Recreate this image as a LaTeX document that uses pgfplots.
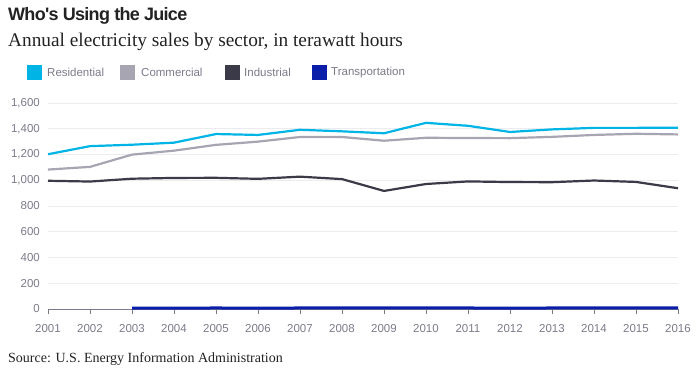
\documentclass[border=0pt]{standalone}
\usepackage{fontspec}
\setmainfont{Liberation Serif}
\newfontfamily\sansf{Liberation Sans}
\newfontfamily\titf[LetterSpace=-4]{Liberation Sans}
\usepackage{pgfplots}
\pgfplotsset{compat=1.18}
\definecolor{res}{HTML}{00B4E6}
\definecolor{com}{HTML}{A7A5B2}
\definecolor{ind}{HTML}{3A3A48}
\definecolor{tra}{HTML}{0A1EAA}
\definecolor{lab}{HTML}{7C7A8A}
\definecolor{gridc}{HTML}{ECECEE}
\definecolor{titc}{HTML}{222222}
\begin{document}
\begin{tikzpicture}[x=1bp,y=1bp]
\useasboundingbox (0,0) rectangle (700,-379);
\node[anchor=base west, inner sep=0, text=titc] at (8,-20.5) {\titf\bfseries\fontsize{18bp}{20bp}\selectfont Who's Using the Juice};
\node[anchor=base west, inner sep=0, text=titc] at (8,-46) {\fontsize{19.3bp}{22bp}\selectfont Annual electricity sales by sector, in terawatt hours};
\fill[res] (27,-65) rectangle (42,-80);
\node[anchor=west, inner sep=0, text=lab] at (47,-72.5) {\sansf\fontsize{11.5bp}{14bp}\selectfont Residential};
\fill[com] (120,-65) rectangle (135,-80);
\node[anchor=west, inner sep=0, text=lab] at (141,-72.5) {\sansf\fontsize{11.5bp}{14bp}\selectfont Commercial};
\fill[ind] (225,-65) rectangle (240,-80);
\node[anchor=west, inner sep=0, text=lab] at (244,-72.5) {\sansf\fontsize{11.5bp}{14bp}\selectfont Industrial};
\fill[tra] (312,-65) rectangle (327,-80);
\node[anchor=west, inner sep=0, text=lab] at (331,-72.5) {\sansf\fontsize{11.5bp}{14bp}\selectfont Transportation};
\node[anchor=base west, inner sep=0, text=titc] at (8,-362) {\fontsize{14bp}{16bp}\selectfont Source: U.S. Energy Information Administration};
\begin{axis}[
  at={(48bp,-309bp)}, anchor=south west,
  scale only axis, width=630bp, height=206bp,
  xmin=2001, xmax=2016, ymin=0, ymax=1600,
  axis lines*=left, axis line style={-},
  y axis line style={draw=none}, ytick style={draw=none},
  x axis line style={draw=lab, line width=0.8bp},
  xtick={2001,...,2016}, ytick={0,200,...,1600},
  xtick align=outside, major tick length=5bp,
  xtick style={draw=lab, line width=0.8bp},
  ymajorgrids, grid style={draw=gridc, line width=0.8bp},
  /pgf/number format/assume math mode=true,
  xticklabel style={/pgf/number format/1000 sep={}, font=\sansf\fontsize{11.5bp}{14bp}\selectfont, text=lab, inner sep=0, yshift=-10bp},
  yticklabel style={/pgf/number format/1000 sep={,}, font=\sansf\fontsize{11.5bp}{14bp}\selectfont, text=lab, inner sep=0, xshift=-8bp},
  clip=false,
]
\addplot[com, line width=2.2bp] coordinates {(2001,1083) (2002,1104) (2003,1199) (2004,1230) (2005,1275) (2006,1300) (2007,1336) (2008,1336) (2009,1307) (2010,1330) (2011,1328) (2012,1327) (2013,1337) (2014,1352) (2015,1361) (2016,1356)};
\addplot[ind, line width=2.2bp] coordinates {(2001,996) (2002,990) (2003,1012) (2004,1018) (2005,1019) (2006,1011) (2007,1028) (2008,1009) (2009,917) (2010,971) (2011,991) (2012,986) (2013,985) (2014,998) (2015,987) (2016,938)};
\addplot[res, line width=2.2bp] coordinates {(2001,1202) (2002,1265) (2003,1276) (2004,1292) (2005,1359) (2006,1352) (2007,1392) (2008,1380) (2009,1365) (2010,1446) (2011,1423) (2012,1375) (2013,1395) (2014,1407) (2015,1407) (2016,1408)};
\addplot[tra, line width=3bp] coordinates {(2003,7) (2004,7) (2005,8) (2006,7) (2007,8) (2008,8) (2009,8) (2010,8) (2011,8) (2012,7) (2013,8) (2014,8) (2015,8) (2016,8)};
\end{axis}
\end{tikzpicture}
\end{document}
